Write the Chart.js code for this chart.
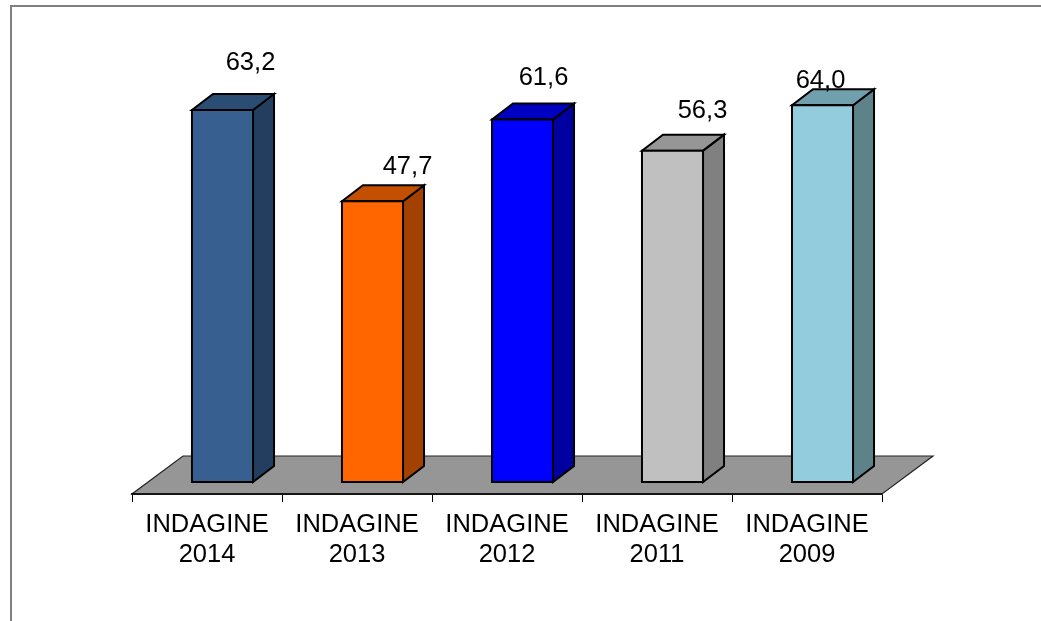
<!DOCTYPE html>
<html>
<head>
<meta charset="utf-8">
<script src="https://cdn.jsdelivr.net/npm/chart.js@4.4.1/dist/chart.umd.min.js"></script>
<style>
	html, body { margin: 0; padding: 0; background: #fff; }
	canvas { display: block; }
</style>
</head>
<body>
<canvas id="chart" width="1041" height="621"></canvas>
<script>
// dati
const categorie = [['INDAGINE', '2014'], ['INDAGINE', '2013'], ['INDAGINE', '2012'], ['INDAGINE', '2011'], ['INDAGINE', '2009']];
const valori = [63.2, 47.7, 61.6, 56.3, 64.0];
const etichette = ['63,2', '47,7', '61,6', '56,3', '64,0'];

// colori delle facce (fronte, sopra, lato)
const coloriFronte = ['#376091', '#ff6600', '#0000ff', '#c0c0c0', '#93cddd'];
const coloriSopra = ['#2b4c73', '#c25000', '#0000c0', '#969696', '#70a0ad'];
const coloriLato = ['#233e5e', '#a34100', '#0000a0', '#808080', '#5e8289'];

// spostamento delle etichette rispetto al centro del lato alto
const spostaEtichette = [[28, -40], [35, -27], [21, -34], [30, -33], [-2, -17]];

const FONT = '"Liberation Sans", Arial, sans-serif';

// profondita del pavimento e delle barre
const pavimento = { dx: 51, dy: -38 };
const fronteBarra = { dx: 15.5, dy: -12 };
const profBarra = { dx: 21, dy: -16 };

function poligono(ctx, punti, fill, stroke, lw) {
	ctx.beginPath();
	ctx.moveTo(punti[0][0], punti[0][1]);
	for (let i = 1; i < punti.length; i++) ctx.lineTo(punti[i][0], punti[i][1]);
	ctx.closePath();
	ctx.fillStyle = fill;
	ctx.fill();
	if (stroke) {
		ctx.strokeStyle = stroke;
		ctx.lineWidth = lw;
		ctx.lineJoin = 'miter';
		ctx.stroke();
	}
}

const barre3d = {
	id: 'barre3d',
	beforeDraw(chart) {
		// cornice
		const ctx = chart.ctx;
		ctx.save();
		ctx.strokeStyle = '#808080';
		ctx.lineWidth = 2;
		ctx.beginPath();
		ctx.moveTo(11, 621);
		ctx.lineTo(11, 6);
		ctx.lineTo(1041, 6);
		ctx.stroke();
		ctx.restore();
	},
	beforeDatasetsDraw(chart) {
		const ctx = chart.ctx;
		const a = chart.chartArea;
		const y0 = chart.scales.y.getPixelForValue(0);
		ctx.save();
		poligono(ctx, [
			[a.left, y0],
			[a.right, y0],
			[a.right + pavimento.dx, y0 + pavimento.dy],
			[a.left + pavimento.dx, y0 + pavimento.dy]
		], '#969696', '#222', 1.2);
		ctx.beginPath();
		ctx.moveTo(a.left, y0);
		ctx.lineTo(a.right, y0);
		ctx.strokeStyle = '#000';
		ctx.lineWidth = 1.5;
		ctx.stroke();
		ctx.restore();
	},
	afterDatasetsDraw(chart) {
		const ctx = chart.ctx;
		const meta = chart.getDatasetMeta(0);
		ctx.save();
		meta.data.forEach((bar, i) => {
			const w = bar.width;
			const x1 = bar.x - w / 2 + fronteBarra.dx;
			const x2 = bar.x + w / 2 + fronteBarra.dx;
			const yt = bar.y + fronteBarra.dy;
			const yb = bar.base + fronteBarra.dy;
			const dx = profBarra.dx, dy = profBarra.dy;
			// lato destro
			poligono(ctx, [[x2, yt], [x2 + dx, yt + dy], [x2 + dx, yb + dy], [x2, yb]], coloriLato[i], '#000', 2);
			// sopra
			poligono(ctx, [[x1, yt], [x2, yt], [x2 + dx, yt + dy], [x1 + dx, yt + dy]], coloriSopra[i], '#000', 2);
			// fronte
			poligono(ctx, [[x1, yt], [x2, yt], [x2, yb], [x1, yb]], coloriFronte[i], '#000', 2);

			// etichetta del valore
			ctx.fillStyle = '#000';
			ctx.font = '25.5px ' + FONT;
			ctx.textAlign = 'center';
			ctx.textBaseline = 'alphabetic';
			const s = spostaEtichette[i];
			ctx.fillText(etichette[i], (x1 + x2) / 2 + s[0], yt + s[1]);
		});
		ctx.restore();
	}
};

const config = {
	type: 'bar',
	data: {
		labels: categorie,
		datasets: [
			{
				data: valori,
				backgroundColor: 'rgba(0,0,0,0)',
				borderWidth: 0,
				categoryPercentage: 1,
				barPercentage: 0.407,
			},
		]
	},
	options: {
		responsive: false,
		animation: false,
		layout: {
			padding: { left: 132, right: 159, top: 82, bottom: 0 }
		},
		plugins: {
			legend: { display: false },
			tooltip: { enabled: false },
		},
		scales: {
			x: {
				offset: true,
				grid: {
					offset: true,
					drawOnChartArea: false,
					drawTicks: true,
					tickLength: 8,
					color: '#000',
					lineWidth: 1,
				},
				border: { display: true, color: '#000', width: 1.5 },
				ticks: {
					color: '#000',
					padding: 8,
					maxRotation: 0,
					autoSkip: false,
					font: { family: FONT, size: 25.5, lineHeight: 30 / 25.5 },
				},
				afterFit(scale) {
					scale.height = 127;
				},
			},
			y: {
				display: false,
				min: 0,
				max: 70,
			}
		}
	},
	plugins: [barre3d]
};

window.addEventListener('load', () => {
	const ctx = document.getElementById('chart').getContext('2d');
	new Chart(ctx, config);
});
</script>
</body>
</html>
